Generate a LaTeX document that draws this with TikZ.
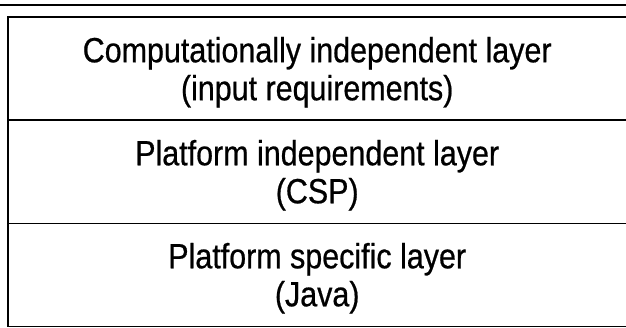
\documentclass[tikz,border=0pt]{standalone}
\usepackage{fontspec}
\newfontfamily\condfont[FakeStretch=0.87,FakeBold=0.6]{Liberation Sans}
\begin{document}
\begin{tikzpicture}[x=1pt,y=1pt,
  layer/.style={minimum width=618pt, minimum height=103pt, inner sep=0pt, anchor=north west},
  label text/.style={align=center, inner sep=0pt, yshift=-3.5pt,
    font=\condfont\fontsize{35}{38}\selectfont},
  rule/.style={line width=1.8pt, line cap=rect}]
\useasboundingbox (0,0) rectangle (626,327);
\node[layer] (l1) at (8,310) {};
\node[layer] (l2) at (8,207) {};
\node[layer] (l3) at (8,104) {};
\node[label text] (t1) at (l1.center) {Computationally independent layer\\(input requirements)};
\node[label text] (t2) at (l2.center) {Platform independent layer\\(CSP)};
\node[label text] (t3) at (l3.center) {Platform specific layer\\(Java)};
\coordinate (tl) at (0,322);
\coordinate (tr) at (626,322);
\draw[rule] (tl) -- (tr);
\draw[rule] (l1.north east) -- (l1.north west) -- (l3.south west) -- (l3.south east);
\draw[rule] (l1.south west) -- (l1.south east);
\draw[rule] (l2.south west) -- (l2.south east);
\end{tikzpicture}
\end{document}
